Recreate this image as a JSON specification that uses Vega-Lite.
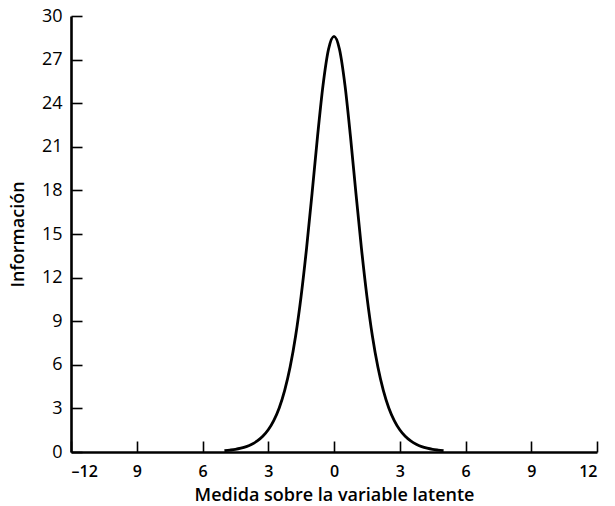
{
  "$schema": "https://vega.github.io/schema/vega-lite/v6.json",
  "width": 526,
  "height": 436,
  "autosize": "none",
  "padding": {"left": 71, "top": 16, "right": 18, "bottom": 54},
  "background": "white",
  "config": {
    "view": {"stroke": null},
    "font": "Open Sans",
    "axis": {
      "grid": false,
      "domainColor": "black",
      "domainWidth": 2.6,
      "tickColor": "black",
      "tickWidth": 1.6,
      "tickSize": -11,
      "labelColor": "black",
      "titleColor": "black",
      "labelFont": "Open Sans",
      "titleFont": "Open Sans",
      "titleFontSize": 18,
      "titleFontWeight": 600
    }
  },
  "data": {
    "values": [
      {"theta": -5.0, "info": 0.09},
      {"theta": -4.75, "info": 0.13},
      {"theta": -4.5, "info": 0.18},
      {"theta": -4.25, "info": 0.26},
      {"theta": -4.0, "info": 0.37},
      {"theta": -3.75, "info": 0.53},
      {"theta": -3.5, "info": 0.76},
      {"theta": -3.25, "info": 1.08},
      {"theta": -3.0, "info": 1.53},
      {"theta": -2.75, "info": 2.16},
      {"theta": -2.5, "info": 3.03},
      {"theta": -2.25, "info": 4.24},
      {"theta": -2.0, "info": 5.86},
      {"theta": -1.75, "info": 8.0},
      {"theta": -1.5, "info": 10.73},
      {"theta": -1.25, "info": 14.05},
      {"theta": -1.0, "info": 17.82},
      {"theta": -0.75, "info": 21.73},
      {"theta": -0.5, "info": 25.24},
      {"theta": -0.25, "info": 27.71},
      {"theta": 0.0, "info": 28.6},
      {"theta": 0.25, "info": 27.71},
      {"theta": 0.5, "info": 25.24},
      {"theta": 0.75, "info": 21.73},
      {"theta": 1.0, "info": 17.82},
      {"theta": 1.25, "info": 14.05},
      {"theta": 1.5, "info": 10.73},
      {"theta": 1.75, "info": 8.0},
      {"theta": 2.0, "info": 5.86},
      {"theta": 2.25, "info": 4.24},
      {"theta": 2.5, "info": 3.03},
      {"theta": 2.75, "info": 2.16},
      {"theta": 3.0, "info": 1.53},
      {"theta": 3.25, "info": 1.08},
      {"theta": 3.5, "info": 0.76},
      {"theta": 3.75, "info": 0.53},
      {"theta": 4.0, "info": 0.37},
      {"theta": 4.25, "info": 0.26},
      {"theta": 4.5, "info": 0.18},
      {"theta": 4.75, "info": 0.13},
      {"theta": 5.0, "info": 0.09}
    ]
  },
  "mark": {"type": "line", "color": "black", "strokeWidth": 2.8, "interpolate": "monotone"},
  "encoding": {
    "x": {
      "field": "theta",
      "type": "quantitative",
      "scale": {"domain": [-12, 12], "nice": false, "zero": false},
      "axis": {
        "values": [-12, -9, -6, -3, 0, 3, 6, 9, 12],
        "labelExpr": "datum.value == -12 ? '–12' : format(abs(datum.value), 'd')",
        "labelFontSize": 16,
        "labelFontWeight": 600,
        "labelPadding": 22,
        "title": "Medida sobre la variable latente",
        "titlePadding": 7
      }
    },
    "y": {
      "field": "info",
      "type": "quantitative",
      "scale": {"domain": [0, 30], "nice": false},
      "axis": {
        "values": [0, 3, 6, 9, 12, 15, 18, 21, 24, 27, 30],
        "labelFontSize": 18,
        "labelFontWeight": "normal",
        "labelPadding": 20,
        "title": "Información",
        "titlePadding": 14
      }
    }
  }
}
